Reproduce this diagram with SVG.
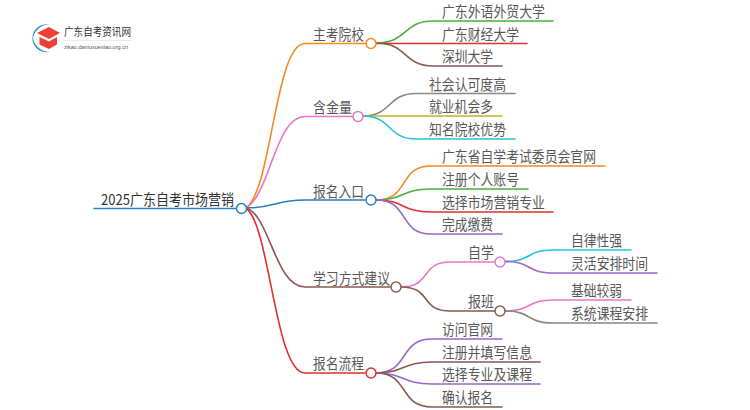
<svg xmlns="http://www.w3.org/2000/svg" width="750" height="410" viewBox="0 0 750 410">
<style>
text{font-family:"Noto Sans CJK SC","Liberation Sans",sans-serif;font-size:15px;fill:#585858}
.c{fill:none;stroke-width:1.6;stroke-linecap:round}
.n{fill:#fff;stroke-width:1.5}
</style>
<rect width="750" height="410" fill="#fff"/>
<g id="logo">
<path d="M49 24.500A14 14 0 1 0 49 52A17 17 0 0 1 33 38A17 17 0 0 1 49 24.500Z" fill="#2a8fd0"/>
<path d="M37 33L49 27L60 33L49 39Z" fill="#ee4036"/>
<path d="M39.500 37L49 41.500L57 37V44.500L49 49L39.500 44.500Z" fill="#ee4036"/>
<text x="64" y="36" textLength="67" lengthAdjust="spacingAndGlyphs" style="font-size:11px;fill:#333">广东自考资讯网</text>
<rect x="63" y="40" width="68" height="0.600" fill="#ddd"/>
<text x="64" y="49" textLength="64" lengthAdjust="spacingAndGlyphs" style="font-size:6px;font-family:'Liberation Sans',sans-serif;fill:#555">zikao.daniuxuexiao.org.cn</text>
</g>
<g id="connectors">
<path class="c" stroke="#2a7fc0" d="M94 208.500H241"/>
<path class="c" stroke="#f58a1f" d="M246 208C272 190 275 43.500 305 43.500H365"/>
<path class="c" stroke="#e875c8" d="M246 208C270 195 275 116.500 305 116.500H352"/>
<path class="c" stroke="#2a7fc0" d="M246 208C275 208 275 200 305 200H365"/>
<path class="c" stroke="#8a5a4f" d="M246 208C270 215 275 287 305 287H390"/>
<path class="c" stroke="#e03030" d="M246 208C270 225 275 373 305 373H365"/>
<path class="c" stroke="#4caf3f" d="M376 43C408 43 403 21 433 21H553"/>
<path class="c" stroke="#e03030" d="M376 43.500H527"/>
<path class="c" stroke="#8a5a4f" d="M376 43C408 43 403 66 433 66H502"/>
<path class="c" stroke="#888" d="M363 116C392 116 387 93.500 416 93.500H515"/>
<path class="c" stroke="#b8b820" d="M363 116H502"/>
<path class="c" stroke="#22c4d4" d="M363 116C392 116 387 139 416 139H515"/>
<path class="c" stroke="#f58a1f" d="M376 200C410 200 398 166 431 166H605"/>
<path class="c" stroke="#4caf3f" d="M376 200C405 200 401 189 431 189H528"/>
<path class="c" stroke="#e03030" d="M376 200C405 200 401 212 431 212H553"/>
<path class="c" stroke="#9a66c8" d="M376 200C410 200 398 234 431 234H502"/>
<path class="c" stroke="#e875c8" d="M401 287C432 287 420 262 450 262H495"/>
<path class="c" stroke="#8a5a4f" d="M401 287C432 287 420 311 450 311H495"/>
<path class="c" stroke="#22c4d4" d="M505 261.500C532 261.500 526 250 553 250H631"/>
<path class="c" stroke="#9a66c8" d="M505 261.500C532 261.500 526 273 553 273H657"/>
<path class="c" stroke="#e875c8" d="M505 311C532 311 526 300 553 300H631"/>
<path class="c" stroke="#888" d="M505 311C532 311 526 323 553 323H657"/>
<path class="c" stroke="#9a66c8" d="M376 373C410 373 398 339 432 339H502"/>
<path class="c" stroke="#8a5a4f" d="M376 373C405 373 402 362 432 362H540"/>
<path class="c" stroke="#9a66c8" d="M376 373C405 373 402 384 432 384H540"/>
<path class="c" stroke="#8a5a4f" d="M376 373C410 373 398 407 432 407H502"/>
</g>
<g id="root"><text x="101" y="205" textLength="133" lengthAdjust="spacingAndGlyphs" style="fill:#333">2025广东自考市场营销</text><circle class="n" cx="241.500" cy="208.500" r="5" stroke="#2a7fc0"/></g>
<g id="n1"><text x="313" y="40" textLength="51" lengthAdjust="spacingAndGlyphs">主考院校</text><circle class="n" cx="371" cy="43.500" r="5" stroke="#f58a1f"/></g>
<g id="n1a"><text x="442" y="17" textLength="103" lengthAdjust="spacingAndGlyphs">广东外语外贸大学</text></g>
<g id="n1b"><text x="442" y="39.500" textLength="77" lengthAdjust="spacingAndGlyphs">广东财经大学</text></g>
<g id="n1c"><text x="442" y="62" textLength="51" lengthAdjust="spacingAndGlyphs">深圳大学</text></g>
<g id="n2"><text x="313" y="113" textLength="39" lengthAdjust="spacingAndGlyphs">含金量</text><circle class="n" cx="358" cy="116.500" r="5" stroke="#e875c8"/></g>
<g id="n2a"><text x="429" y="89.500" textLength="77" lengthAdjust="spacingAndGlyphs">社会认可度高</text></g>
<g id="n2b"><text x="429" y="112" textLength="64" lengthAdjust="spacingAndGlyphs">就业机会多</text></g>
<g id="n2c"><text x="429" y="135" textLength="77" lengthAdjust="spacingAndGlyphs">知名院校优势</text></g>
<g id="n3"><text x="313" y="197" textLength="51" lengthAdjust="spacingAndGlyphs">报名入口</text><circle class="n" cx="371" cy="200" r="5" stroke="#2a7fc0"/></g>
<g id="n3a"><text x="442" y="162" textLength="154" lengthAdjust="spacingAndGlyphs">广东省自学考试委员会官网</text></g>
<g id="n3b"><text x="442" y="185" textLength="77" lengthAdjust="spacingAndGlyphs">注册个人账号</text></g>
<g id="n3c"><text x="442" y="208" textLength="103" lengthAdjust="spacingAndGlyphs">选择市场营销专业</text></g>
<g id="n3d"><text x="442" y="230" textLength="51" lengthAdjust="spacingAndGlyphs">完成缴费</text></g>
<g id="n4"><text x="313" y="284" textLength="77" lengthAdjust="spacingAndGlyphs">学习方式建议</text><circle class="n" cx="396" cy="287" r="5" stroke="#8a5a4f"/></g>
<g id="n4a"><text x="468" y="258" textLength="26" lengthAdjust="spacingAndGlyphs">自学</text><circle class="n" cx="500" cy="262" r="5" stroke="#e875c8"/></g>
<g id="n4a1"><text x="571" y="246" textLength="51" lengthAdjust="spacingAndGlyphs">自律性强</text></g>
<g id="n4a2"><text x="571" y="269" textLength="77" lengthAdjust="spacingAndGlyphs">灵活安排时间</text></g>
<g id="n4b"><text x="468" y="307" textLength="26" lengthAdjust="spacingAndGlyphs">报班</text><circle class="n" cx="500" cy="311" r="5" stroke="#8a5a4f"/></g>
<g id="n4b1"><text x="571" y="296" textLength="51" lengthAdjust="spacingAndGlyphs">基础较弱</text></g>
<g id="n4b2"><text x="571" y="319" textLength="77" lengthAdjust="spacingAndGlyphs">系统课程安排</text></g>
<g id="n5"><text x="313" y="369" textLength="51" lengthAdjust="spacingAndGlyphs">报名流程</text><circle class="n" cx="371" cy="373" r="5" stroke="#e03030"/></g>
<g id="n5a"><text x="442" y="335" textLength="51" lengthAdjust="spacingAndGlyphs">访问官网</text></g>
<g id="n5b"><text x="442" y="358" textLength="90" lengthAdjust="spacingAndGlyphs">注册并填写信息</text></g>
<g id="n5c"><text x="442" y="380" textLength="90" lengthAdjust="spacingAndGlyphs">选择专业及课程</text></g>
<g id="n5d"><text x="442" y="403" textLength="51" lengthAdjust="spacingAndGlyphs">确认报名</text></g>
</svg>
